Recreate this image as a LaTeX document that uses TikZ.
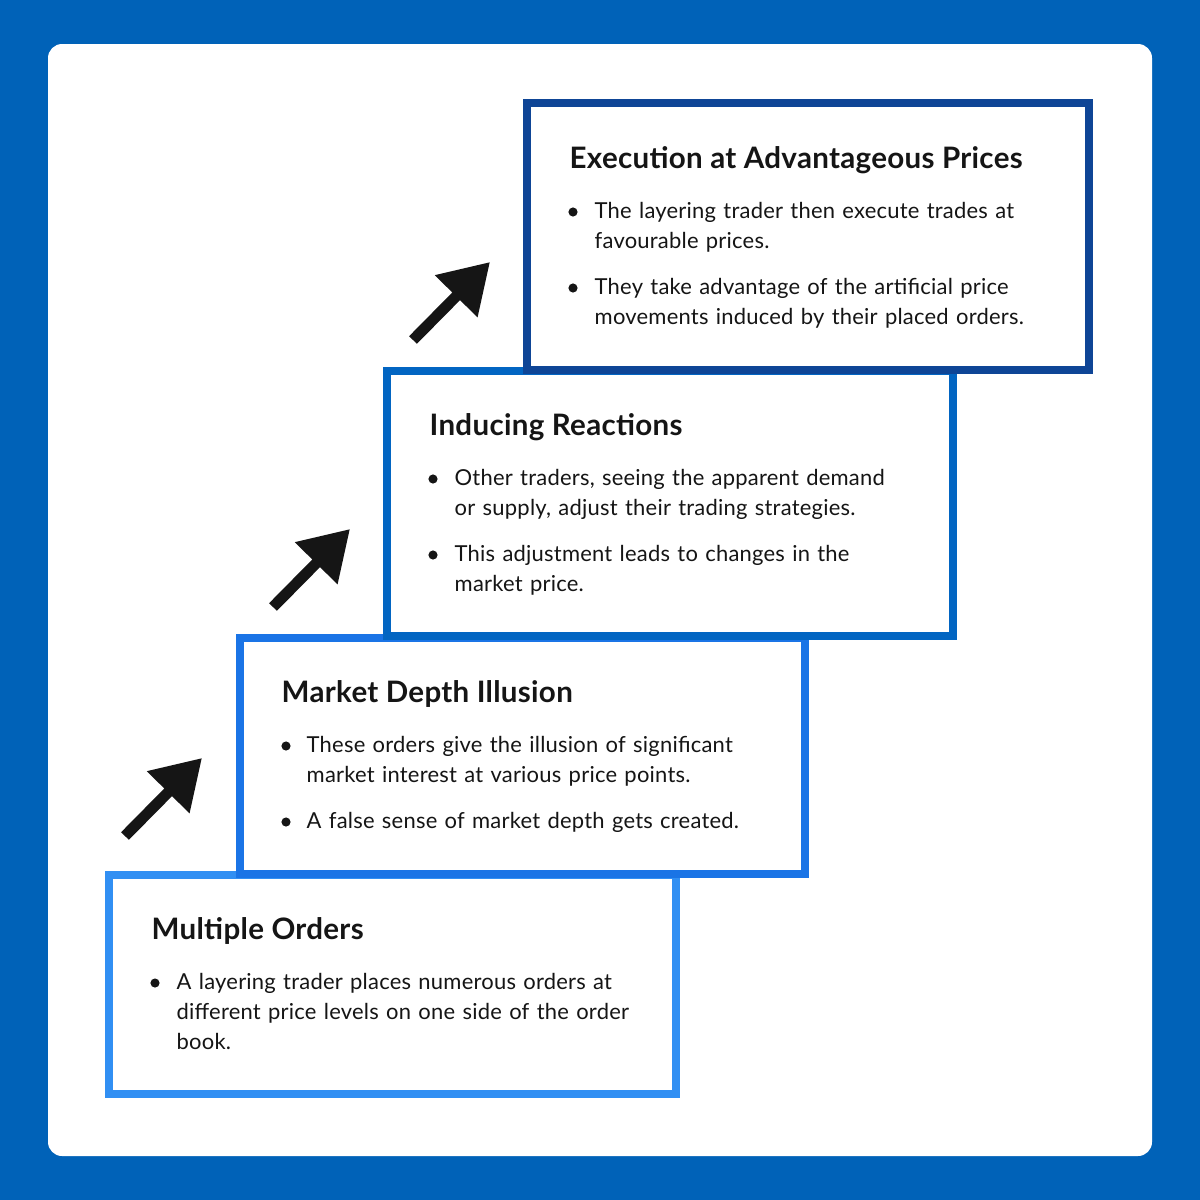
\documentclass[tikz,border=0pt]{standalone}
\usepackage{fontspec}
\setmainfont{Lato}[LetterSpace=1]
\usetikzlibrary{arrows.meta}
\definecolor{bgblue}{HTML}{0062B8}
\definecolor{cA}{HTML}{0E4596}
\definecolor{cB}{HTML}{0265C2}
\definecolor{cC}{HTML}{1A74E6}
\definecolor{cD}{HTML}{318FF3}
\definecolor{ink}{HTML}{151515}
\begin{document}
\begin{tikzpicture}[x=0.01cm,y=-0.01cm,
  stepbox/.style={draw, line width=2.276pt, fill=white, inner sep=0, outer sep=0, anchor=north west},
  ttl/.style={font=\fontsize{8.4pt}{9pt}\selectfont\bfseries, text=ink, inner sep=0, anchor=base west},
  txt/.style={font=\fontsize{6.25pt}{8.536pt}\selectfont, text=ink, inner sep=0, anchor=base west, text width=160pt, align=left},
  dot/.style={circle, fill=ink, inner sep=0, minimum size=2.6pt},
  bigarrow/.style={line width=3.1pt, draw=ink, -{Triangle[length=13.7pt,width=16.2pt]}}]
\useasboundingbox (0,0) rectangle (1200,1200);
\fill[bgblue] (0,0) rectangle (1200,1200);
\fill[white, rounded corners=4pt] (48,44) rectangle (1152,1156);

% boxes, bottom first
\node[stepbox, draw=cD, minimum width=5.67cm, minimum height=2.19cm] (bD) at (109,875) {};
\node[stepbox, draw=cC, minimum width=5.65cm, minimum height=2.36cm] (bC) at (240,638) {};
\node[stepbox, draw=cB, minimum width=5.66cm, minimum height=2.65cm] (bB) at (387,371) {};
\node[stepbox, draw=cA, minimum width=5.62cm, minimum height=2.67cm] (bA) at (527,103) {};

% box A
\node[ttl] (tA) at (569,168) {Execution at Advantageous Prices};
\node[dot] (dA1) at (573,212) {};
\node[txt] (xA1) at (594,218) {The layering trader then execute trades at\\favourable prices.};
\node[dot] (dA2) at (573,288) {};
\node[txt] (xA2) at (594,294) {They take advantage of the artificial price\\movements induced by their placed orders.};

% box B
\node[ttl] (tB) at (429,435) {Inducing Reactions};
\node[dot] (dB1) at (433,479) {};
\node[txt] (xB1) at (454,485) {Other traders, seeing the apparent demand\\or supply, adjust their trading strategies.};
\node[dot] (dB2) at (433,555) {};
\node[txt] (xB2) at (454,561) {This adjustment leads to changes in the\\market price.};

% box C
\node[ttl] (tC) at (281,702) {Market Depth Illusion};
\node[dot] (dC1) at (286,746) {};
\node[txt] (xC1) at (306,752) {These orders give the illusion of significant\\market interest at various price points.};
\node[dot] (dC2) at (286,822) {};
\node[txt] (xC2) at (306,828) {A false sense of market depth gets created.};

% box D
\node[ttl] (tD) at (151,939) {Multiple Orders};
\node[dot] (dD1) at (155,983) {};
\node[txt] (xD1) at (176,989) {A layering trader places numerous orders at\\different price levels on one side of the order\\book.};

% arrows
\coordinate (a1s) at (125,836); \coordinate (a1e) at (202,758);
\coordinate (a2s) at (273,607); \coordinate (a2e) at (350,529);
\coordinate (a3s) at (413,340); \coordinate (a3e) at (490,262);
\draw[bigarrow] (a1s) -- (a1e);
\draw[bigarrow] (a2s) -- (a2e);
\draw[bigarrow] (a3s) -- (a3e);
\end{tikzpicture}
\end{document}
